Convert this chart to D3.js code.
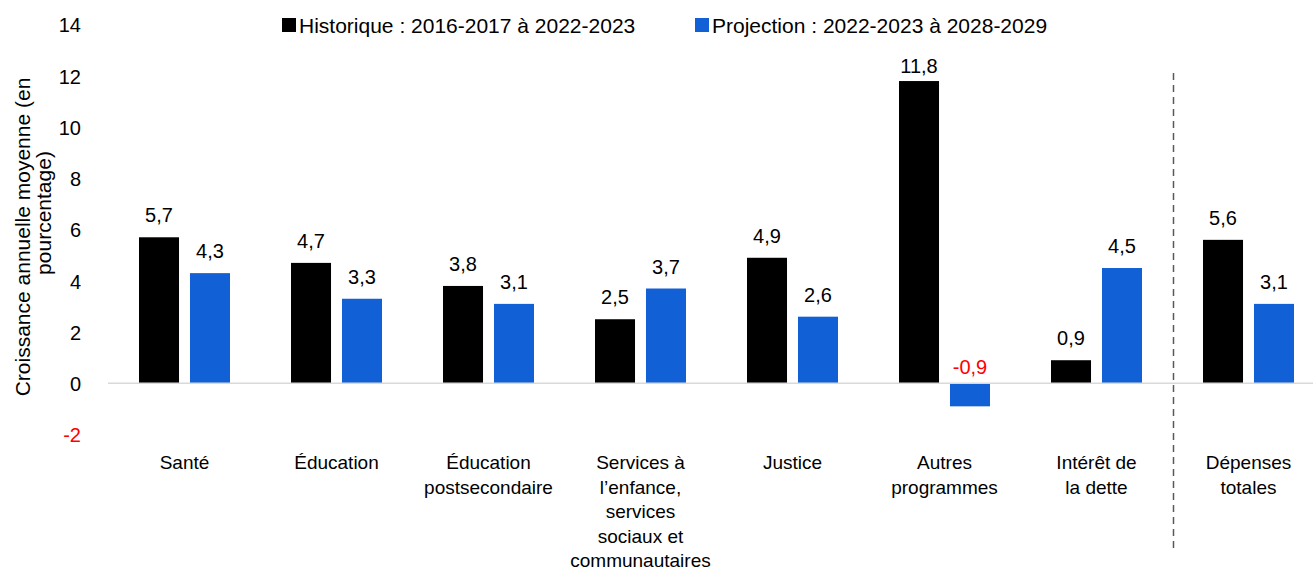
<!DOCTYPE html>
<html lang="fr">
<head>
    <meta charset="utf-8">
    <title>Croissance annuelle moyenne</title>
    <style>
        html, body {margin: 0;padding: 0;background: #fff;}
        svg {display: block;font-family: "Liberation Sans", Arial, Helvetica, sans-serif;}
    </style>
</head>
<body>
<div id="chart"></div>
<script src="https://cdnjs.cloudflare.com/ajax/libs/d3/7.8.5/d3.min.js"></script>
<script>
  var categories = [
    ['Santé'],
    ['Éducation'],
    ['Éducation', 'postsecondaire'],
    ['Services à', 'l’enfance,', 'services', 'sociaux et', 'communautaires'],
    ['Justice'],
    ['Autres', 'programmes'],
    ['Intérêt de', 'la dette'],
    ['Dépenses', 'totales']
  ];
  var historique = [5.7, 4.7, 3.8, 2.5, 4.9, 11.8, 0.9, 5.6];
  var projection = [4.3, 3.3, 3.1, 3.7, 2.6, -0.9, 4.5, 3.1];
  var seriesNames = ['Historique : 2016-2017 à 2022-2023', 'Projection : 2022-2023 à 2028-2029'];
  var seriesColors = ['#000000', '#1160d6'];
  var yTicks = [-2, 0, 2, 4, 6, 8, 10, 12, 14];

  var width = 1313, height = 573;
  var svg = d3.select('#chart').append('svg')
    .attr('width', width)
    .attr('height', height);

  var keys = categories.map(function (c, i) { return 'c' + i; });
  var x = d3.scaleBand().domain(keys).range([108.5, 1324.5]).paddingInner(0).paddingOuter(0);
  var xs = d3.scaleBand().domain([0, 1]).range([30.5, 121.5]).paddingInner(0.215);
  var y = d3.scaleLinear().domain([-2, 14]).range([434.5, 24.7]);

  var fmt = function (v) { return d3.format('.1f')(v).replace('.', ',').replace('−', '-'); };

  // axe y (textes seulement)
  var yAxis = d3.axisLeft(y).tickValues(yTicks).tickSize(0).tickPadding(0)
    .tickFormat(function (d) { return d3.format('d')(d).replace('−', '-'); });
  var ga = svg.append('g').attr('transform', 'translate(81,0)').call(yAxis);
  ga.select('.domain').remove();
  ga.selectAll('text')
    .style('font-size', '20px')
    .style('font-family', '"Liberation Sans", Arial, sans-serif')
    .attr('fill', function (d) { return d < 0 ? '#ff0000' : '#000'; })
    .attr('dy', '0.36em');

  // titre y
  var titleLines = [
    {text: 'Croissance annuelle moyenne (en', x: 30, y: 237},
    {text: 'pourcentage)', x: 51, y: 213}
  ];
  svg.selectAll('text.ytitle').data(titleLines).enter().append('text')
    .attr('class', 'ytitle')
    .attr('transform', function (d) { return 'translate(' + d.x + ',' + d.y + ') rotate(-90)'; })
    .attr('text-anchor', 'middle')
    .style('font-size', '21px')
    .text(function (d) { return d.text; });

  // barres
  var data = categories.map(function (c, i) {
    return {key: keys[i], label: c, values: [historique[i], projection[i]]};
  });

  var groups = svg.selectAll('g.cat').data(data).enter().append('g')
    .attr('class', 'cat')
    .attr('transform', function (d) { return 'translate(' + x(d.key) + ',0)'; });

  groups.selectAll('rect').data(function (d) { return d.values; }).enter().append('rect')
    .attr('x', function (v, j) { return xs(j); })
    .attr('width', xs.bandwidth())
    .attr('y', function (v) { return y(Math.max(0, v)); })
    .attr('height', function (v) { return Math.abs(y(v) - y(0)); })
    .attr('fill', function (v, j) { return seriesColors[j]; });

  // ligne zéro
  svg.append('line')
    .attr('x1', 108).attr('x2', width)
    .attr('y1', y(0)).attr('y2', y(0))
    .attr('stroke', '#d9d9d9').attr('stroke-width', 1.5);

  groups.selectAll('text.val').data(function (d) { return d.values; }).enter().append('text')
    .attr('class', 'val')
    .attr('x', function (v, j) { return xs(j) + xs.bandwidth() / 2; })
    .attr('y', function (v) {
      var p = v < 0 ? y(0) - 9 : y(v) - 15;
      return Math.max(p, 73);
    })
    .attr('text-anchor', 'middle')
    .style('font-size', '20px')
    .attr('fill', function (v) { return v < 0 ? '#ff0000' : '#000'; })
    .text(fmt);

  // étiquettes de catégories
  groups.append('text')
    .attr('text-anchor', 'middle')
    .attr('y', 469)
    .style('font-size', '19px')
    .selectAll('tspan')
    .data(function (d) { return d.label; })
    .enter().append('tspan')
    .attr('x', x.bandwidth() / 2)
    .attr('dy', function (d, i) { return i === 0 ? 0 : 24.5; })
    .text(function (d) { return d; });

  // séparateur
  var sepX = x(keys[7]) + 1;
  svg.append('line')
    .attr('x1', sepX).attr('x2', sepX)
    .attr('y1', 73).attr('y2', 553)
    .attr('stroke', '#595959').attr('stroke-width', 1.5)
    .attr('stroke-dasharray', '7,5');

  // légende
  var legendX = [282, 695];
  var lg = svg.selectAll('g.legend').data(seriesNames).enter().append('g')
    .attr('class', 'legend')
    .attr('transform', function (d, i) { return 'translate(' + legendX[i] + ',18)'; });
  lg.append('rect').attr('width', 14).attr('height', 14)
    .attr('fill', function (d, i) { return seriesColors[i]; });
  lg.append('text').attr('x', 17).attr('y', 15)
    .style('font-size', '21px')
    .text(function (d) { return d; });
</script>
</body>
</html>
